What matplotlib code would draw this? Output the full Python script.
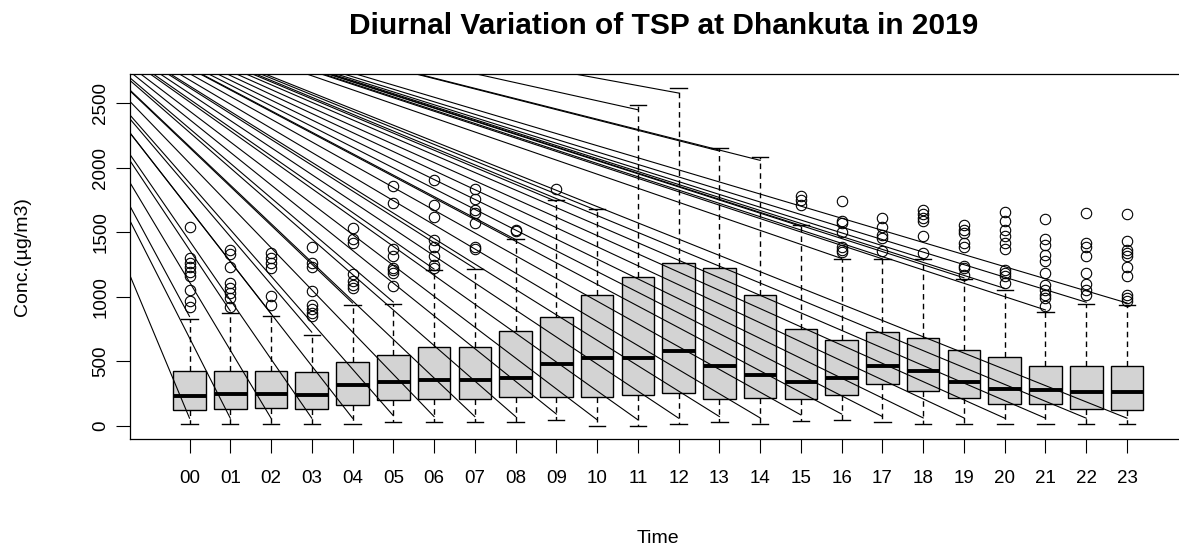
import matplotlib
matplotlib.use("Agg")
import matplotlib.pyplot as plt

plt.rcParams['font.family'] = ['Liberation Sans', 'DejaVu Sans']

hours = ["00", "01", "02", "03", "04", "05", "06", "07", "08", "09", "10", "11",
         "12", "13", "14", "15", "16", "17", "18", "19", "20", "21", "22", "23"]
whislo = [13, 13, 13, 13, 13, 33, 26, 26, 26, 46, 0, 0,
          13, 26, 15, 39, 46, 26, 15, 15, 13, 13, 13, 13]
q1 = [119, 129, 137, 129, 163, 196, 206, 206, 222, 222, 222, 235,
      253, 207, 214, 207, 235, 323, 271, 214, 170, 170, 129, 119]
med = [227, 248, 248, 235, 313, 336, 356, 356, 374, 480, 524, 524,
       576, 460, 395, 343, 374, 460, 421, 336, 287, 279, 258, 258]
q3 = [428, 428, 428, 416, 493, 545, 607, 614, 733, 839, 1010, 1149,
      1265, 1222, 1010, 748, 661, 723, 684, 586, 531, 460, 467, 460]
whishi = [829, 873, 852, 703, 937, 945, 1209, 1214, 1446, 1751, 1678, 2487,
          2621, 2156, 2081, 1552, 1294, 1291, 1294, 1139, 1054, 881, 943, 937]
outliers = [
    [1539, 1299, 1260, 1229, 1195, 1157, 1054, 963, 920],
    [1363, 1332, 1229, 1105, 1066, 1028, 989, 920],
    [1338, 1299, 1260, 1222, 1002, 937],
    [1384, 1260, 1229, 1041, 937, 904, 873, 847],
    [1529, 1446, 1420, 1175, 1118, 1092, 1066],
    [1859, 1725, 1371, 1312, 1222, 1204, 1183, 1085],
    [1901, 1712, 1617, 1441, 1389, 1312, 1247, 1222],
    [1836, 1756, 1673, 1648, 1575, 1389, 1371],
    [1518, 1510],
    [1836],
    [], [], [], [], [],
    [1777, 1751, 1712],
    [1743, 1583, 1570, 1500, 1389, 1363, 1350],
    [1609, 1544, 1480, 1454, 1358],
    [1673, 1642, 1609, 1583, 1467, 1338],
    [1557, 1518, 1493, 1415, 1389, 1240, 1222, 1170],
    [1660, 1583, 1518, 1467, 1415, 1369, 1209, 1183, 1157, 1105],
    [1604, 1446, 1402, 1325, 1273, 1183, 1092, 1054, 1015, 989, 925],
    [1648, 1415, 1389, 1312, 1183, 1100, 1054, 1010],
    [1640, 1428, 1363, 1338, 1312, 1234, 1157, 1015, 989, 963],
]

# stray line artefact: common origin and shrink of whisker ends
line_origin = (-3.6, 3540)
line_mid = 1363
line_shrink = 0.966

fig = plt.figure(figsize=(11.79, 5.46), dpi=100)
ax = fig.add_axes([0.11026, 0.19542, 0.8961, 0.66905])

positions = list(range(1, len(hours) + 1))
stats = []
for i in range(len(hours)):
    stats.append(dict(whislo=whislo[i], q1=q1[i], med=med[i], q3=q3[i],
                      whishi=whishi[i], fliers=outliers[i], label=hours[i]))

ax.bxp(stats, positions=positions, widths=0.8, capwidths=0.4, patch_artist=True,
       boxprops=dict(facecolor='#D3D3D3', edgecolor='black', linewidth=1.0),
       medianprops=dict(color='black', linewidth=2.8, solid_capstyle='butt'),
       whiskerprops=dict(color='black', linewidth=1.0, linestyle=(0, (4, 3))),
       capprops=dict(color='black', linewidth=1.0),
       flierprops=dict(marker='o', markerfacecolor='none', markeredgecolor='black',
                       markersize=7.5, markeredgewidth=0.8, linestyle='none'))

for i, p in enumerate(positions):
    for w in (whislo[i], whishi[i]):
        yend = line_mid + line_shrink * (w - line_mid)
        ax.plot([line_origin[0], p], [line_origin[1], yend], color='black',
                linewidth=0.8, zorder=3)

ax.set_xlim(-0.46, 25.46)
ax.set_ylim(-104.8, 2725.8)
ax.set_xticks(positions)
ax.set_xticklabels(hours)
ax.set_yticks([0, 500, 1000, 1500, 2000, 2500])
ax.set_yticklabels(['0', '500', '1000', '1500', '2000', '2500'], rotation=90, va='center')
ax.tick_params(axis='both', length=10, width=0.8, labelsize=13.5, pad=5)
ax.tick_params(axis='x', pad=12)
for s in ax.spines.values():
    s.set_linewidth(0.9)

ax.set_xlabel('Time', fontsize=14, labelpad=31)
ax.set_ylabel('Conc.(µg/m3)', fontsize=14, labelpad=44)
fig.text(664 / 1179, 1 - 26 / 546, 'Diurnal Variation of TSP at Dhankuta in 2019',
         ha='center', va='center', fontsize=21.5, fontweight='bold')

fig.savefig('out.png', dpi=100)
